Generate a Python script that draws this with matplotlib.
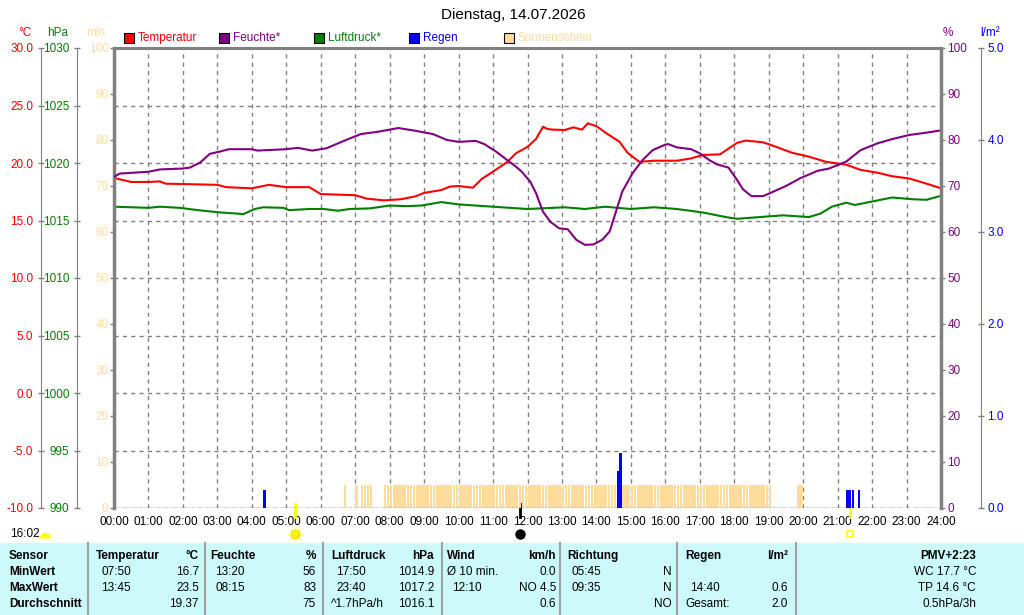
import numpy as np
import matplotlib
matplotlib.use("Agg")
import matplotlib.pyplot as plt
from matplotlib.patches import Rectangle
from matplotlib.lines import Line2D
from matplotlib.transforms import blended_transform_factory

plt.rcParams['font.family'] = ['Liberation Sans', 'DejaVu Sans']
plt.rcParams['font.size'] = 8

# --- Daten ---
temp_times = ["00:00", "00:30", "01:00", "01:20", "01:30", "02:00", "03:00", "03:15", "04:00",
              "04:30", "05:00", "05:40", "06:00", "07:00", "07:20", "07:50", "08:20", "08:45",
              "09:00", "09:30", "09:45", "10:00", "10:25", "10:40", "11:00", "11:25", "11:40",
              "12:00", "12:15", "12:27", "12:35", "12:45", "13:05", "13:20", "13:35", "13:45",
              "14:00", "14:20", "14:40", "14:55", "15:15", "15:40", "16:20", "16:45", "17:05",
              "17:35", "18:05", "18:20", "18:50", "19:05", "19:40", "20:10", "20:40", "21:15",
              "21:40", "22:10", "22:35", "23:05", "23:35", "24:00"]
temp_vals = [18.7, 18.35, 18.35, 18.4, 18.2, 18.17, 18.1, 17.9, 17.8,
             18.1, 17.9, 17.9, 17.3, 17.2, 16.9, 16.75, 16.85, 17.1,
             17.4, 17.65, 17.95, 18.0, 17.85, 18.6, 19.25, 20.1, 20.85,
             21.4, 22.1, 23.15, 22.95, 22.9, 22.87, 23.1, 22.9, 23.45,
             23.2, 22.5, 21.85, 20.85, 20.1, 20.2, 20.2, 20.4, 20.7,
             20.75, 21.75, 21.95, 21.8, 21.55, 20.9, 20.55, 20.1, 19.85,
             19.4, 19.15, 18.85, 18.65, 18.2, 17.8]

hum_times = ["00:00", "00:10", "01:00", "01:20", "02:00", "02:12", "02:30", "02:47", "03:05",
             "03:20", "04:00", "04:10", "05:00", "05:20", "05:45", "06:10", "06:40", "07:10",
             "07:40", "08:15", "08:45", "09:15", "09:40", "10:00", "10:30", "10:45", "11:05",
             "11:25", "11:40", "11:50", "12:05", "12:15", "12:27", "12:40", "12:55", "13:10",
             "13:25", "13:40", "13:55", "14:10", "14:23", "14:35", "14:45", "15:03", "15:20",
             "15:38", "16:00", "16:05", "16:20", "16:45", "17:00", "17:17", "17:30", "17:50",
             "18:05", "18:15", "18:30", "18:50", "19:05", "19:30", "19:55", "20:25", "20:45",
             "21:15", "21:40", "22:10", "22:35", "23:05", "23:35", "24:00"]
hum_vals = [72.0, 72.7, 73.1, 73.6, 73.8, 74.0, 75.1, 77.0, 77.5,
            78.0, 78.0, 77.7, 78.0, 78.3, 77.7, 78.2, 79.8, 81.3,
            81.8, 82.6, 82.0, 81.3, 80.0, 79.6, 79.8, 79.1, 77.5,
            75.6, 74.2, 73.1, 70.9, 68.4, 64.4, 62.2, 60.8, 60.6,
            58.3, 57.2, 57.3, 58.3, 60.1, 64.8, 68.8, 72.8, 75.6,
            77.8, 79.0, 79.1, 78.4, 78.0, 77.1, 75.6, 74.7, 74.0,
            71.3, 69.3, 67.8, 67.8, 68.6, 70.0, 71.7, 73.3, 73.8,
            75.3, 77.8, 79.3, 80.2, 81.1, 81.6, 82.1]

press_times = ["00:00", "01:00", "01:20", "01:55", "02:10", "02:35", "03:05", "03:35", "03:45",
               "04:05", "04:20", "04:55", "05:05", "05:40", "06:05", "06:30", "06:50", "07:25",
               "08:00", "08:30", "08:55", "09:30", "10:00", "11:00", "12:00", "13:05", "13:40",
               "14:15", "15:00", "15:40", "16:20", "17:05", "17:45", "18:05", "18:45", "19:25",
               "20:10", "20:30", "20:50", "21:15", "21:30", "22:00", "22:35", "23:10", "23:35",
               "24:00"]
press_vals = [1016.2, 1016.1, 1016.2, 1016.1, 1016.0, 1015.85, 1015.7, 1015.6, 1015.55,
              1016.0, 1016.15, 1016.1, 1015.9, 1016.0, 1016.0, 1015.85, 1016.0, 1016.05,
              1016.3, 1016.25, 1016.3, 1016.6, 1016.4, 1016.2, 1016.0, 1016.15, 1016.0,
              1016.2, 1016.0, 1016.15, 1016.0, 1015.7, 1015.3, 1015.15, 1015.3, 1015.45,
              1015.3, 1015.6, 1016.2, 1016.55, 1016.35, 1016.65, 1017.0, 1016.85, 1016.8,
              1017.15]

rain_times = ["04:20", "14:35", "14:40", "21:15", "21:20", "21:25", "21:35"]
rain_vals = [0.2, 0.4, 0.6, 0.2, 0.2, 0.2, 0.2]

# Sonnenschein in 5-Minuten-Intervallen (je 5 min)
sun_periods = [("06:40", "06:40"), ("07:00", "07:00"), ("07:10", "07:25"),
               ("07:50", "19:00"), ("19:50", "19:55")]
sun_minutes = 5

sun_events = ["05:16", "11:47", "21:22"]

title = "Dienstag, 14.07.2026"

sensor_rows = ["Sensor", "MinWert", "MaxWert", "Durchschnitt"]
temp_cells = [("Temperatur", "°C"), ("07:50", "16.7"), ("13:45", "23.5"), ("", "19.37")]
hum_cells = [("Feuchte", "%"), ("13:20", "56"), ("08:15", "83"), ("", "75")]
press_cells = [("Luftdruck", "hPa"), ("17:50", "1014.9"), ("23:40", "1017.2"), ("^1.7hPa/h", "1016.1")]
wind_cells = [("Wind", "km/h"), ("Ø 10 min.", "0.0"), ("12:10", "NO 4.5"), ("", "0.6")]
dir_cells = [("Richtung", ""), ("05:45", "N"), ("09:35", "N"), ("", "NO")]
rain_cells = [("Regen", "l/m²"), ("", ""), ("14:40", "0.6"), ("Gesamt:", "2.0")]
extra_cells = ["PMV+2:23", "WC 17.7 °C", "TP 14.6 °C", "0.5hPa/3h"]


def hrs(times):
    return np.array([int(t[:2]) + int(t[3:]) / 60 for t in times])


RED, PURPLE, GREEN, BLUE = '#FF0000', '#800080', '#008000', '#0000FF'
SUN = '#FFDC9C'
GRAY = '#808080'

W, H = 1024, 615
fig = plt.figure(figsize=(W / 100, H / 100), dpi=100)


def fx(x):
    return x / W


def fy(y):
    return 1 - y / H


rect = [fx(114), fy(508), 827 / W, 460 / H]

# Temperatur = Basisachse (mit Gitter)
ax_t = fig.add_axes(rect)
ax_t.set_xlim(0, 24)
ax_t.set_ylim(-10, 30)
ax_t.set_xticks(range(25))
ax_t.set_xticklabels([f"{h:02d}:00" for h in range(25)])
ax_t.set_yticks(np.arange(-10, 31, 5))
ax_t.set_yticklabels([f"{v:.1f}" for v in np.arange(-10, 31, 5)])
ax_t.grid(True, color=GRAY, ls=(0, (3, 3)), lw=1)
ax_t.tick_params(axis='x', length=0, pad=6, labelsize=8.5)
ax_t.tick_params(axis='y', direction='inout', length=5, width=1, color=GRAY,
                 labelcolor=RED, pad=3, labelsize=8.5)
ax_t.spines['left'].set_position(('axes', (41 - 114) / 827))
ax_t.spines['left'].set_color(GRAY)
ax_t.spines['top'].set_color(GRAY)
ax_t.spines['top'].set_linewidth(2.2)
ax_t.spines['bottom'].set_visible(False)
ax_t.spines['right'].set_visible(False)
ax_t.plot(hrs(temp_times), temp_vals, color=RED, lw=1.5, zorder=5)

# Luftdruck
ax_p = ax_t.twinx()
ax_p.yaxis.tick_left()
ax_p.set_ylim(990, 1030)
ax_p.set_yticks(np.arange(990, 1031, 5))
for s in ['top', 'bottom', 'right']:
    ax_p.spines[s].set_visible(False)
ax_p.spines['left'].set_position(('axes', (77 - 114) / 827))
ax_p.spines['left'].set_color(GRAY)
ax_p.tick_params(axis='y', direction='inout', length=5, width=1, color=GRAY,
                 labelcolor=GREEN, pad=3, labelsize=8.5)
ax_p.plot(hrs(press_times), press_vals, color=GREEN, lw=1.5)

# Sonnenschein
ax_s = ax_t.twinx()
ax_s.yaxis.tick_left()
ax_s.set_ylim(0, 100)
ax_s.set_yticks(np.arange(0, 101, 10))
for s in ['top', 'bottom', 'right']:
    ax_s.spines[s].set_visible(False)
ax_s.spines['left'].set_color(GRAY)
ax_s.spines['left'].set_linewidth(2.5)
ax_s.tick_params(axis='y', direction='out', length=3, width=1, color=GRAY,
                 labelcolor=SUN, pad=1, labelsize=8.5)
sun_slots = []
for a, b in sun_periods:
    t = hrs([a])[0]
    while t <= hrs([b])[0] + 1e-6:
        sun_slots.append(t)
        t += 5 / 60
ax_s.bar(sun_slots, [sun_minutes] * len(sun_slots), width=4.2 / 60, align='edge',
         color=SUN, lw=0)

# Feuchte
ax_h = ax_t.twinx()
ax_h.set_ylim(0, 100)
ax_h.set_yticks(np.arange(0, 101, 10))
for s in ['top', 'bottom', 'left']:
    ax_h.spines[s].set_visible(False)
ax_h.spines['right'].set_color(GRAY)
ax_h.spines['right'].set_linewidth(2.5)
ax_h.tick_params(axis='y', direction='out', length=3, width=1, color=GRAY,
                 labelcolor=PURPLE, pad=1.5, labelsize=8.5)
ax_h.plot(hrs(hum_times), hum_vals, color=PURPLE, lw=1.5)

# Regen
ax_r = ax_t.twinx()
ax_r.set_ylim(0, 5)
ax_r.set_yticks(np.arange(0, 5.1, 1))
ax_r.set_yticklabels([f"{v:.1f}" for v in np.arange(0, 5.1, 1)])
for s in ['top', 'bottom', 'left']:
    ax_r.spines[s].set_visible(False)
ax_r.spines['right'].set_position(('axes', (981 - 114) / 827))
ax_r.spines['right'].set_color(GRAY)
ax_r.tick_params(axis='y', direction='inout', length=5, width=1, color=GRAY,
                 labelcolor=BLUE, pad=2, labelsize=8.5)
ax_r.bar(hrs(rain_times), rain_vals, width=4 / 60, align='edge', color=BLUE, lw=0)
ax_r.axhline(0, color=BLUE, ls=':', lw=1)

# Sonnenauf-/untergang Marker
tr = blended_transform_factory(ax_t.transData, ax_t.transAxes)
ev = hrs(sun_events)
ev_colors = ['#FFFF00', 'black', '#FFFF00']
for x, c in zip(ev, ev_colors):
    ax_t.plot([x, x], [0.009, -0.02], transform=tr, color=c, lw=2, clip_on=False)
ax_t.plot(ev[0], -0.056, transform=tr, marker=(8, 2, 0), ms=11, color='#FFFF80',
          mew=1, clip_on=False)
ax_t.plot(ev[0], -0.056, transform=tr, marker='o', ms=6, mfc='#FFFF00', mec='#FFD800',
          clip_on=False)
ax_t.plot(ev[1], -0.056, transform=tr, marker='o', ms=6.5, mfc='black', mec='black',
          clip_on=False)
ax_t.plot(ev[2], -0.056, transform=tr, marker='s', ms=5, mfc='white', mec='#FFFF00',
          mew=1.2, clip_on=False)

fig.text(fx(10), fy(534), "16:02", ha='left', va='center', fontsize=8.5)
fig.add_artist(Line2D([fx(44.5)], [fy(537.5)], marker='o', fillstyle='top', markersize=8,
                      markerfacecolor='#FFFF00', markerfacecoloralt='none',
                      markeredgewidth=0, transform=fig.transFigure))

# Titel und Einheiten
fig.text(fx(513), fy(15), title, ha='center', va='center', fontsize=11)
fig.text(fx(25), fy(33), "°C", color=RED, ha='center', va='center', fontsize=8.5)
fig.text(fx(58), fy(33), "hPa", color=GREEN, ha='center', va='center', fontsize=8.5)
fig.text(fx(96), fy(33), "min", color=SUN, ha='center', va='center', fontsize=8.5)
fig.text(fx(948), fy(33), "%", color=PURPLE, ha='center', va='center', fontsize=8.5)
fig.text(fx(990), fy(33), "l/m²", color=BLUE, ha='center', va='center', fontsize=8.5)

# Legende
legend = [("Temperatur", RED, RED), ("Feuchte*", PURPLE, PURPLE),
          ("Luftdruck*", GREEN, GREEN), ("Regen", BLUE, BLUE),
          ("Sonnenschein", SUN, SUN)]
for i, (name, fc, tc) in enumerate(legend):
    x0 = 124 + 95 * i
    fig.add_artist(Rectangle((fx(x0), fy(43)), 10 / W, 10 / H, transform=fig.transFigure,
                             facecolor=fc, edgecolor='black', lw=0.8))
    fig.text(fx(x0 + 14), fy(38), name, color=tc, ha='left', va='center', fontsize=8.5)

# Tabelle
fig.add_artist(Rectangle((0, 0), 1, fy(543), transform=fig.transFigure,
                         facecolor='#CCFAFA', edgecolor='none'))
for x in [88, 205, 323, 442, 560, 677, 796]:
    fig.add_artist(Line2D([fx(x), fx(x)], [0, fy(543)], color='#A0A0A0', lw=1.5,
                          transform=fig.transFigure))
row_y = [556, 572, 588, 604]
for y, name in zip(row_y, sensor_rows):
    fig.text(fx(9), fy(y), name, fontweight='bold', ha='left', va='center', fontsize=8.5)

blocks = [(temp_cells, 96, 199), (hum_cells, 210, 316), (press_cells, 331, 434),
          (wind_cells, 447, 556), (dir_cells, 567, 672), (rain_cells, 685, 788)]
indented = {"Ø 10 min.", "^1.7hPa/h", "Gesamt:"}
for cells, xl, xr in blocks:
    for r, (left, right) in enumerate(cells):
        bold = 'bold' if r == 0 else 'normal'
        xx = xl if (r == 0 or left in indented) else xl + 5
        fig.text(fx(xx), fy(row_y[r]), left, fontweight=bold, ha='left', va='center',
                 fontsize=8.5)
        fig.text(fx(xr), fy(row_y[r]), right, fontweight=bold, ha='right', va='center',
                 fontsize=8.5)
for r, txt in enumerate(extra_cells):
    fig.text(fx(976), fy(row_y[r]), txt, fontweight='bold' if r == 0 else 'normal',
             ha='right', va='center', fontsize=8.5)

fig.savefig("out.png", dpi=100)
